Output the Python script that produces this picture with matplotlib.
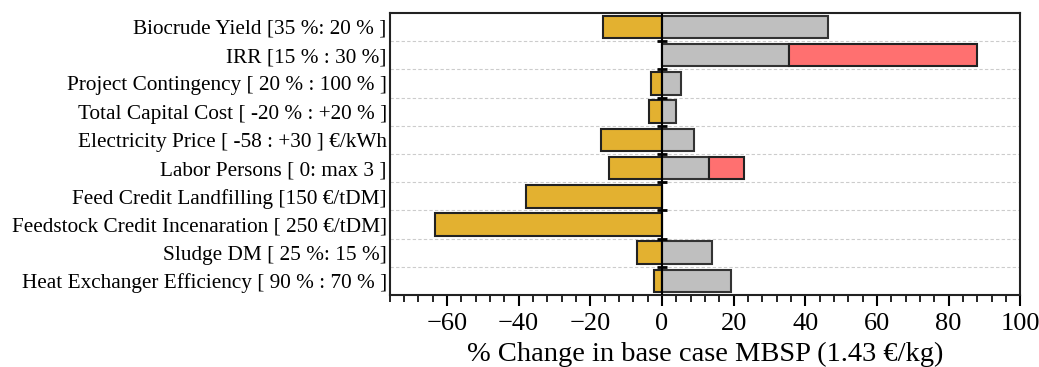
import numpy as np
import matplotlib
matplotlib.use('Agg')
from matplotlib import pyplot as plt

# tornado data, % change in base case MBSP
categories = ['Biocrude Yield [35 %: 20 % ]',
              'IRR [15 % : 30 %]',
              'Project Contingency [ 20 % : 100 % ]',
              'Total Capital Cost [ -20 % : +20 % ]',
              'Electricity Price [ -58 : +30 ] €/kWh',
              'Labor Persons [ 0: max 3 ]',
              'Feed Credit Landfilling [150 €/tDM]',
              'Feedstock Credit Incenaration [ 250 €/tDM]',
              'Sludge DM [ 25 %: 15 %]',
              'Heat Exchanger Efficiency [ 90 % : 70 % ]']
low = [-16.4, 0.0, -3.0, -3.7, -16.9, -14.8, -38.0, -63.4, -6.9, -2.3]
high = [46.2, 35.4, 5.3, 3.9, 8.9, 13.2, 0.0, 0.0, 14.1, 19.2]
extra = [0.0, 87.8, 0.0, 0.0, 0.0, 23.0, 0.0, 0.0, 0.0, 0.0]  # red part ends here

yellow = '#E3B130'
grey = '#BFBFBF'
red = '#FF7070'

plt.rcParams['font.family'] = ['Liberation Serif', 'DejaVu Serif']

fig = plt.figure(figsize=(10.39, 3.67), dpi=100)
ax = fig.add_axes([0.375, 0.196, 0.607, 0.769])

y = np.arange(len(categories))[::-1]
low = np.array(low)
high = np.array(high)
extra = np.array(extra)

ax.barh(y, low, height=0.8, color=yellow, edgecolor='#222222', linewidth=1.5, zorder=3)
ax.barh(y, high, height=0.8, color=grey, edgecolor='#333333', linewidth=1.5, zorder=3)
mask = extra > 0
ax.barh(y[mask], extra[mask] - high[mask], left=high[mask], height=0.8, color=red,
        edgecolor='#222222', linewidth=1.5, zorder=3)

# separators between rows
for b in np.arange(len(categories) - 1) + 0.5:
    ax.axhline(b, color='#cccccc', linestyle=(0, (3, 2)), linewidth=0.8, zorder=1)
ax.axvline(0, color='black', linewidth=1.5, zorder=4)
ax.plot(np.zeros(len(categories) - 1), np.arange(len(categories) - 1) + 0.5, '_',
        color='black', markersize=7, markeredgewidth=2, zorder=5)

ax.set_xlim(-76, 100)
ax.set_ylim(-0.5, len(categories) - 0.5)
ax.set_yticks(y)
ax.set_yticklabels(categories, fontsize=15.3)
ax.tick_params(axis='y', length=0, pad=2)
ax.set_xticks(np.arange(-60, 101, 20))
ax.set_xticks(np.arange(-76, 101, 4), minor=True)
ax.tick_params(axis='x', which='major', direction='out', length=8, width=1.5, labelsize=19, pad=5)
ax.tick_params(axis='x', which='minor', direction='out', length=5, width=1.2)
ax.set_xlabel('% Change in base case MBSP (1.43 €/kg)', fontsize=20.5, labelpad=5)

for s in ax.spines.values():
    s.set_linewidth(1.5)
    s.set_color('#222222')

fig.savefig('out.png', dpi=100)
